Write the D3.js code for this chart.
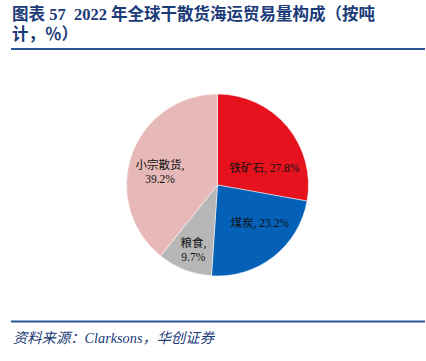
<!DOCTYPE html>
<html><head><meta charset="utf-8">
<script src="https://cdn.jsdelivr.net/npm/d3@7/dist/d3.min.js"></script>
<style>body{margin:0;background:#fff}svg{display:block}text{white-space:pre}</style>
</head><body>
<svg id="c" width="426" height="361"></svg>
<script>
const categories = ["铁矿石", "煤炭", "粮食", "小宗散货"];
const values = [27.8, 23.2, 9.7, 39.2];
const colors = ["#E6131F", "#0560B8", "#B7B7B7", "#E6B9B8"];
const titleLines = ["图表 57  2022 年全球干散货海运贸易量构成（按吨", "计，％）"];
const sourceText = "资料来源：Clarksons，华创证券";

const svg = d3.select("#c");
const cx = 217.5, cy = 185, r = 91;
const blue = "#1B3A78";
const fontCJK = "'Liberation Serif','Times New Roman','Noto Sans CJK SC',serif";

// title
const t = svg.append("text").attr("x", 12).attr("fill", blue)
  .attr("font-family", fontCJK).attr("font-weight", "bold").attr("font-size", 16.5);
titleLines.forEach((s, i) => t.append("tspan").attr("x", 12).attr("y", 20 + i * 20).text(s));

svg.append("line").attr("x1", 11).attr("x2", 425).attr("y1", 49).attr("y2", 49)
  .attr("stroke", "#2B5597").attr("stroke-width", 2);
svg.append("line").attr("x1", 11).attr("x2", 425).attr("y1", 321.5).attr("y2", 321.5)
  .attr("stroke", "#2B5597").attr("stroke-width", 2);

svg.append("text").attr("x", 13).attr("y", 343).attr("fill", blue)
  .attr("font-family", fontCJK).attr("font-style", "italic").attr("font-size", 14.3)
  .text(sourceText);

// pie
const pie = d3.pie().sort(null).value(d => d.v);
const data = pie(categories.map((c, i) => ({c, v: values[i]})));
const arc = d3.arc().innerRadius(0).outerRadius(r);
const g = svg.append("g").attr("transform", `translate(${cx},${cy})`);
g.selectAll("path").data(data).join("path")
  .attr("d", arc).attr("fill", (d, i) => colors[i])
  .attr("stroke", "#fff").attr("stroke-width", 0.5);

// label anchor placement (layout): distance & angle from centre
const labelLayout = [
  {ang: 70, dist: 50, lines: d => [`${d.c}, ${d.v}%`]},
  {ang: 132, dist: 57, lines: d => [`${d.c}, ${d.v}%`]},
  {ang: 200.5, dist: 69, lines: d => [`${d.c},`, `${d.v}%`]},
  {ang: 283, dist: 59, lines: d => [`${d.c},`, `${d.v}%`]}
];
data.forEach((d, i) => {
  const L = labelLayout[i];
  const a = L.ang * Math.PI / 180;
  const x = Math.sin(a) * L.dist, y = -Math.cos(a) * L.dist;
  const lines = L.lines(d.data);
  const tx = g.append("text").attr("text-anchor", "middle").attr("fill", "#111")
    .attr("font-family", fontCJK).attr("font-size", 11.5);
  lines.forEach((s, j) => tx.append("tspan").attr("x", x)
    .attr("y", y + 4 + (j - (lines.length - 1) / 2) * 14).text(s));
});
</script>
</body></html>
